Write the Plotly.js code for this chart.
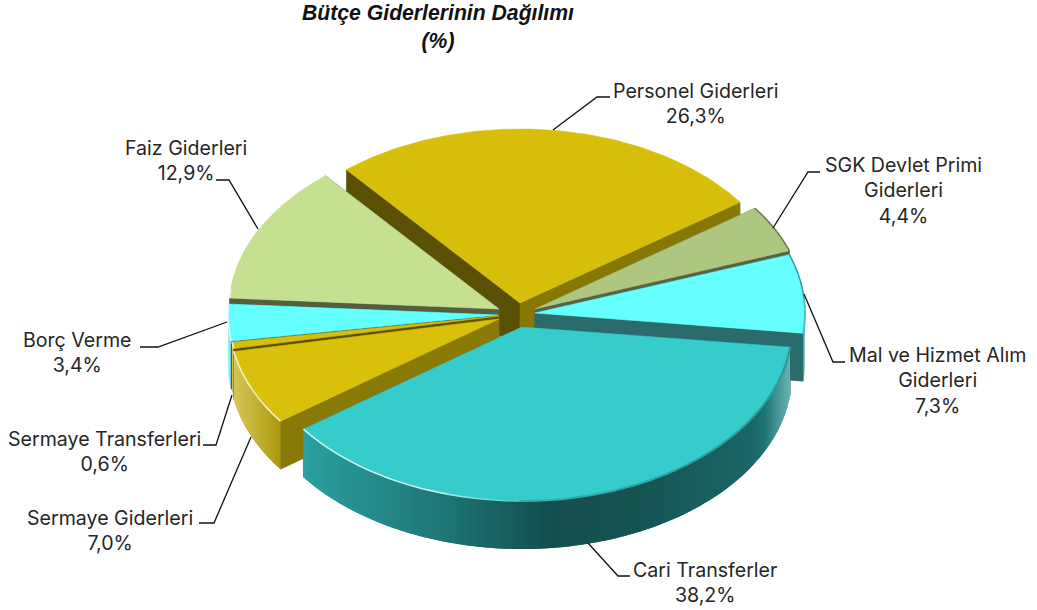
<!DOCTYPE html>
<html>
<head>
<meta charset="utf-8">
<script src="https://cdn.plot.ly/plotly-3.0.1.min.js"></script>
<style>html,body{margin:0;padding:0;background:#fff}</style>
</head>
<body>
<div id="chart" style="width:1037px;height:610px"></div>
<script>
// ---- data ----
const categories = ["Personel Giderleri","SGK Devlet Primi<br>Giderleri","Mal ve Hizmet Alım<br>Giderleri","Cari Transferler","Sermaye Giderleri","Sermaye Transferleri","Borç Verme","Faiz Giderleri"];
const values = [26.3,4.4,7.3,38.2,7.0,0.6,3.4,12.9];
const chartTitle = "Bütçe Giderlerinin Dağılımı<br>(%)";

// ---- styling and layout of the tilted, exploded pie ----
const topColors = ["#d6be0a","#afc680","#66ffff","#36cccc","#d9c00b","#d6be0a","#66ffff","#c6e092"];
const apexX = [520,535,535,522,499,499,498,499];
const apexY = [303,309,313,327,319,316,315,309];
const startWallShade = [0.42,0.55,0.42,0.42,0.63,0.42,0.42,0.42];
const endWallShade   = [0.63,0.50,0.42,0.63,0.42,0.42,0.42,0.42];
const drawOrder = [0,1,2,7,6,5,4,3];
const labelX = [696,903,937,705,110,104,77,186];
const labelY = [103,190,380,582,530,451,352,160];
const leaderX = [[553,597,610],[773,808,820],[804,833,845],[588,618,630],[251,214,199],[232,216,203],[227,158,140],[258,229,216]];
const leaderY = [[130,97,97],[228,172,172],[294,362,362],[543,576,576],[437,523,523],[395,445,445],[322,347,347],[229,180,180]];
const RX = 270, RY = 174, DEPTH = 48, START_DEG = -40, STEP = 1, BEVEL_STEP = 3;

const rgb = h => [1,3,5].map(i => parseInt(h.substr(i,2),16));
const css = c => `rgb(${c.map(v=>Math.round(v)).join(",")})`;
const mix = (a,b,t) => a.map((v,i)=>v+(b[i]-v)*t);
const clamp = (v,a,b) => Math.min(b,Math.max(a,v));
const rad = d => d*Math.PI/180;

const total = values.reduce((a,b)=>a+b,0);
let cum = START_DEG;
const spans = values.map(v => { const s = cum; cum += v/total*360; return [s,cum]; });

function rimShade(u){
  const xs = [-1,-0.8,-0.3,0.1,0.5,0.85,1];
  const fs = [0.9,0.78,0.58,0.38,0.42,0.5,0.7];
  for(let i=0;i<xs.length-1;i++){
    if(u<=xs[i+1]){ const t=(u-xs[i])/(xs[i+1]-xs[i]); return fs[i]+(fs[i+1]-fs[i])*clamp(t,0,1); }
  }
  return fs[fs.length-1];
}
const traces = [];
function poly(xs,ys,color){
  traces.push({type:"scatter",mode:"lines",x:xs,y:ys,fill:"toself",fillcolor:color,
    line:{color:color,width:0.6},hoverinfo:"skip",showlegend:false});
}
function band(xs,ys,color){
  traces.push({type:"scatter",mode:"none",x:xs,y:ys,fill:"toself",fillcolor:color,hoverinfo:"skip",showlegend:false});
}
function stroke(xs,ys,color,w){
  traces.push({type:"scatter",mode:"lines",x:xs,y:ys,line:{color:color,width:w},hoverinfo:"skip",showlegend:false});
}
function steps(a,b,s){ const r=[]; for(let d=a;d<b;d+=s) r.push(d); r.push(b); return r; }

drawOrder.forEach(i=>{
  const [a,b] = spans[i];
  const ax = apexX[i], ay = apexY[i], base = rgb(topColors[i]);
  const px = d => ax+RX*Math.sin(rad(d));
  const py = d => ay-RY*Math.cos(rad(d));
  const wall = (d,f) => poly([ax,px(d),px(d),ax,ax],[ay,py(d),py(d)+DEPTH,ay+DEPTH,ay],css(base.map(v=>v*f)));
  const startFront = Math.sin(rad(a))<0, endFront = Math.sin(rad(b))>0;
  // walls that sit behind the rim
  if(!startFront) wall(a,startWallShade[i]);
  if(!endFront) wall(b,endWallShade[i]);
  // outer rim: each band overlaps the next so that it paints over without seams
  const angles = steps(a,b,STEP);
  for(let k=0;k<angles.length-1;k++){
    const d0=angles[k], dm=(d0+angles[k+1])/2;
    if(Math.cos(rad(dm))>0.45) continue;
    const u=Math.sin(rad(dm));
    const lim = u<0 ? 0.8 : 0.9;
    const w=Math.max(0,(Math.abs(u)-lim)/(1-lim))*0.35;
    const c=mix(base.map(v=>v*rimShade(u)),[255,255,255],w);
    const arc=[]; for(let m=k;m<Math.min(k+3,angles.length);m++) arc.push(angles[m]);
    const xs=arc.map(px).concat(arc.slice().reverse().map(px));
    const ys=arc.map(py).concat(arc.slice().reverse().map(d=>py(d)+DEPTH));
    band(xs,ys,css(c));
  }
  // walls that face the viewer
  if(startFront) wall(a,startWallShade[i]);
  if(endFront) wall(b,endWallShade[i]);
  // top face
  const tx=[ax], ty=[ay];
  angles.forEach(d=>{tx.push(px(d));ty.push(py(d));});
  tx.push(ax);ty.push(ay);
  poly(tx,ty,topColors[i]);
  // bevel along the arc
  const bev = steps(a,b,BEVEL_STEP);
  for(let k=0;k<bev.length-1;k++){
    const d0=bev[k], d1=bev[k+1], dm=(d0+d1)/2;
    const u=Math.sin(rad(dm)), front=Math.cos(rad(dm))<0.1;
    let c=null, w=1.5;
    if(front && u<0){
      const s=clamp(-u*2.8,0,1)*0.8;
      if(s>0.05) c=mix(base,[255,255,255],s);
    } else if(front && u>=0){
      c=mix(base,base.map(v=>v*0.55),clamp(0.25+u*0.3,0,0.6)); w=2;
    } else if(u>0.82){
      c=base.map(v=>v*0.6); w=1.5;
    }
    if(c) stroke([px(d0),px(d1)],[py(d0),py(d1)],css(c),w);
  }
});
// leader lines
categories.forEach((_,i)=>stroke(leaderX[i],leaderY[i],"#111111",1.3));

const FONT = "Inter, Lato, sans-serif";
const annotations = categories.map((c,i)=>({
  text: c+"<br>"+values[i].toFixed(1).replace(".",",")+"%",
  x: labelX[i], y: labelY[i], xref:"x", yref:"y", showarrow:false, align:"center",
  font:{family:FONT,size:19.6,color:"#262626"}
}));
const hidden = {visible:false,fixedrange:true,autorange:false};
Plotly.newPlot("chart",traces,{
  width:1037,height:610,margin:{l:0,r:0,t:0,b:0},paper_bgcolor:"#fff",plot_bgcolor:"#fff",
  showlegend:false,annotations:annotations,
  title:{text:chartTitle,x:438/1037,xanchor:"center",y:0.967,yanchor:"top",
         font:{family:"'Liberation Sans', sans-serif",size:21.2,color:"#111111",weight:"bold",style:"italic"}},
  xaxis:Object.assign({range:[0,1037]},hidden),
  yaxis:Object.assign({range:[610,0]},hidden)
},{displayModeBar:false,staticPlot:true});
</script>
</body>
</html>
